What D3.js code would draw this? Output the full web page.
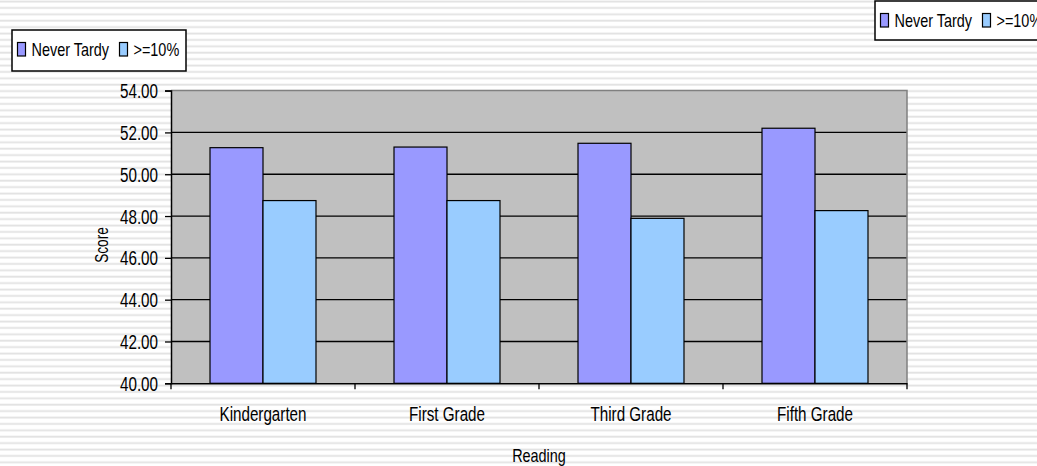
<!DOCTYPE html>
<html>
<head>
<meta charset="utf-8">
<script src="https://cdn.jsdelivr.net/npm/d3@7"></script>
<style>
  html, body { margin: 0; padding: 0; background: #fff; }
  svg { display: block; }
  text { font-family: "Liberation Sans", Arial, sans-serif; fill: #000; }
</style>
</head>
<body>
<svg id="chart" width="1037" height="466"></svg>
<script>
// Reading scores by grade
const categories = ["Kindergarten", "First Grade", "Third Grade", "Fifth Grade"];
const seriesNames = ["Never Tardy", ">=10%"];
const neverTardy = [51.27, 51.30, 51.48, 52.20];
const tardy10 = [48.74, 48.74, 47.89, 48.26];
const yTicks = [40, 42, 44, 46, 48, 50, 52, 54];
const xTitle = "Reading";
const yTitle = "Score";

const colors = { "Never Tardy": "#9999FF", ">=10%": "#99CCFF" };
const seriesValues = { "Never Tardy": neverTardy, ">=10%": tardy10 };

const W = 1037, H = 466;
const plot = { left: 171, right: 907, top: 90.6, bottom: 383.3 };
const SX = 0.78; // horizontal condensing of all labels

const svg = d3.select("#chart");

// condensed text: placed at (x, y), squeezed along its own direction
function label(parent, x, y, str, size, anchor, rotate) {
  const g = parent.append("g")
    .attr("transform", `translate(${x},${y})${rotate ? ` rotate(${rotate})` : ""} scale(${SX},1)`);
  return g.append("text")
    .attr("text-anchor", anchor || "start")
    .attr("font-size", size)
    .text(str);
}

// striped page background
const defs = svg.append("defs");
const pat = defs.append("pattern")
  .attr("id", "stripes")
  .attr("patternUnits", "userSpaceOnUse")
  .attr("width", 10).attr("height", 6.4);
pat.append("rect").attr("width", 10).attr("height", 6.4).attr("fill", "#ffffff");
pat.append("rect").attr("y", 0.6).attr("width", 10).attr("height", 1.8).attr("fill", "#e2e2e2");
svg.append("rect").attr("width", W).attr("height", H).attr("fill", "url(#stripes)");

const x = d3.scaleBand().domain(categories).range([plot.left, plot.right]).padding(0);
const x1 = d3.scaleBand().domain(seriesNames).range([0, x.bandwidth()])
  .paddingInner(0).paddingOuter(0.736);
const y = d3.scaleLinear().domain([40, 54]).range([plot.bottom, plot.top]);

// plot area
svg.append("rect")
  .attr("x", plot.left).attr("y", plot.top)
  .attr("width", plot.right - plot.left).attr("height", plot.bottom - plot.top)
  .attr("fill", "#C0C0C0");

// gridlines
svg.append("g").selectAll("line")
  .data(yTicks.filter(t => t > 40 && t < 54))
  .join("line")
  .attr("x1", plot.left).attr("x2", plot.right)
  .attr("y1", d => y(d)).attr("y2", d => y(d))
  .attr("stroke", "#000").attr("stroke-width", 1.3);

// plot border (top/right)
svg.append("path")
  .attr("d", `M${plot.left},${plot.top}H${plot.right}V${plot.bottom}`)
  .attr("fill", "none").attr("stroke", "#808080").attr("stroke-width", 1.5);

// bars
const groups = svg.append("g").selectAll("g")
  .data(categories)
  .join("g")
  .attr("transform", d => `translate(${x(d)},0)`);

groups.selectAll("rect")
  .data((c, i) => seriesNames.map(s => ({ s, v: seriesValues[s][i] })))
  .join("rect")
  .attr("x", d => x1(d.s))
  .attr("width", x1.bandwidth())
  .attr("y", d => y(d.v))
  .attr("height", d => y(40) - y(d.v))
  .attr("fill", d => colors[d.s])
  .attr("stroke", "#000").attr("stroke-width", 1.2);

// y axis
const yAxis = svg.append("g")
  .attr("transform", `translate(${plot.left},0)`)
  .call(d3.axisLeft(y).tickValues(yTicks).tickFormat(d3.format(".2f")).tickSize(6).tickPadding(6));
yAxis.select(".domain").attr("stroke", "#000").attr("stroke-width", 1.5);
yAxis.selectAll(".tick line").attr("stroke", "#000").attr("stroke-width", 1.3);
yAxis.selectAll(".tick text")
  .attr("font-size", 19.5).attr("font-family", null).attr("fill", "#000")
  .attr("x", -13 / SX).attr("dy", "0.36em")
  .attr("transform", `scale(${SX},1)`);

// x axis
const xAxis = svg.append("g")
  .attr("transform", `translate(0,${plot.bottom})`)
  .call(d3.axisBottom(x).tickSize(0).tickPadding(0));
xAxis.select(".domain").attr("stroke", "#000").attr("stroke-width", 1.5);
xAxis.selectAll(".tick text")
  .attr("font-size", 19.5).attr("font-family", null).attr("fill", "#000")
  .attr("y", 38).attr("dy", 0)
  .attr("transform", `scale(${SX},1)`);
// category boundary ticks
svg.append("g").selectAll("line")
  .data(d3.range(categories.length + 1))
  .join("line")
  .attr("x1", i => plot.left + i * x.step())
  .attr("x2", i => plot.left + i * x.step())
  .attr("y1", plot.bottom).attr("y2", plot.bottom + 6)
  .attr("stroke", "#000").attr("stroke-width", 1.3);

// axis titles
label(svg, (plot.left + plot.right) / 2, 462, xTitle, 18.5, "middle");
label(svg, 108, 245, yTitle, 17.5, "middle", -90);

// legends
function legend(x0, y0, w, h) {
  const g = svg.append("g").attr("transform", `translate(${x0},${y0})`);
  g.append("rect").attr("width", w).attr("height", h)
    .attr("fill", "#fff").attr("stroke", "#000").attr("stroke-width", 1.5);
  const items = [
    { s: seriesNames[0], mx: 5.5, tx: 19.5 },
    { s: seriesNames[1], mx: 107.5, tx: 121.5 }
  ];
  items.forEach(it => {
    g.append("rect")
      .attr("x", it.mx).attr("y", 12.5)
      .attr("width", 8).attr("height", 13.5)
      .attr("fill", colors[it.s]).attr("stroke", "#000").attr("stroke-width", 1.2);
    label(g, it.tx, 26, it.s, 18.5, "start");
  });
}
legend(12, 30, 174, 41);
legend(875, 1, 174, 39);
</script>
</body>
</html>
